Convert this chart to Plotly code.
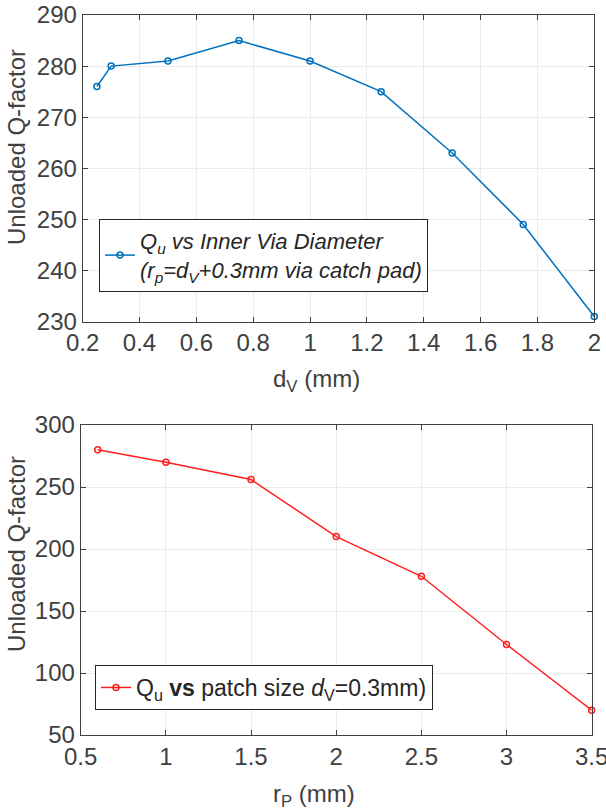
import plotly.graph_objects as go

# Top chart data: Q_u vs inner via diameter
dv_mm = [0.25, 0.3, 0.5, 0.75, 1.0, 1.25, 1.5, 1.75, 2.0]
qu_dv = [276, 280, 281, 285, 281, 275, 263, 249, 231]
top_xticks = [0.2, 0.4, 0.6, 0.8, 1.0, 1.2, 1.4, 1.6, 1.8, 2.0]
top_xtext = ["0.2", "0.4", "0.6", "0.8", "1", "1.2", "1.4", "1.6", "1.8", "2"]
top_yticks = [230, 240, 250, 260, 270, 280, 290]

# Bottom chart data: Q_u vs patch size
rp_mm = [0.6, 1.0, 1.5, 2.0, 2.5, 3.0, 3.5]
qu_rp = [280, 270, 256, 210, 178, 123, 70]
bot_xticks = [0.5, 1.0, 1.5, 2.0, 2.5, 3.0, 3.5]
bot_xtext = ["0.5", "1", "1.5", "2", "2.5", "3", "3.5"]
bot_yticks = [50, 100, 150, 200, 250, 300]

W, H = 606, 810
AX = "#404040"
GRID = "#ebebeb"
FONT = "Liberation Sans, Arial, Helvetica, sans-serif"

fig = go.Figure()

fig.add_trace(go.Scatter(
    x=dv_mm, y=qu_dv, mode="lines+markers", xaxis="x", yaxis="y",
    line=dict(color="#0072BD", width=1.5),
    marker=dict(symbol="circle-open", size=6, color="#0072BD", line=dict(width=1.5)),
    cliponaxis=False, legend="legend",
    name="<i>Q<sub>u</sub> vs Inner Via Diameter</i><br><i>(r<sub>p</sub>=d<sub>V</sub>+0.3mm via catch pad)</i>",
))
fig.add_trace(go.Scatter(
    x=rp_mm, y=qu_rp, mode="lines+markers", xaxis="x2", yaxis="y2",
    line=dict(color="#FF1F1F", width=1.5),
    marker=dict(symbol="circle-open", size=6, color="#FF1F1F", line=dict(width=1.5)),
    cliponaxis=False, legend="legend2",
    name="Q<sub>u</sub> <b>vs</b> patch size <i>d</i><sub>V</sub>=0.3mm)",
))

axis_common = dict(
    showline=True, linecolor=AX, linewidth=1, mirror="ticks",
    ticks="inside", ticklen=5, tickcolor=AX, tickwidth=1,
    showgrid=True, gridcolor=GRID, gridwidth=1, zeroline=False,
    tickfont=dict(family=FONT, size=24, color=AX), automargin=False,
    ticklabeloverflow="allow",
)

fig.update_layout(
    width=W, height=H,
    margin=dict(l=0, r=0, t=0, b=0),
    paper_bgcolor="white", plot_bgcolor="white",
    font=dict(family=FONT, color=AX),
    xaxis=dict(domain=[82.7 / W, 594.3 / W], anchor="y", range=[0.2, 2.0],
               tickmode="array", tickvals=top_xticks, ticktext=top_xtext, **axis_common),
    yaxis=dict(domain=[(H - 321.6) / H, (H - 15) / H], anchor="x", range=[230, 290],
               tickmode="array", tickvals=top_yticks, **axis_common),
    xaxis2=dict(domain=[80.7 / W, 591.7 / W], anchor="y2", range=[0.5, 3.5],
                tickmode="array", tickvals=bot_xticks, ticktext=bot_xtext, **axis_common),
    yaxis2=dict(domain=[(H - 735) / H, (H - 425) / H], anchor="x2", range=[50, 300],
                tickmode="array", tickvals=bot_yticks, **axis_common),
    legend=dict(x=99 / W, y=(H - 219) / H, xanchor="left", yanchor="top",
                bgcolor="white", bordercolor="#262626", borderwidth=1,
                font=dict(family=FONT, size=22, color="#262626"),
                itemwidth=30, valign="middle"),
    legend2=dict(x=95 / W, y=(H - 665) / H, xanchor="left", yanchor="top",
                 bgcolor="white", bordercolor="#262626", borderwidth=1,
                 font=dict(family=FONT, size=23, color="#262626"),
                 itemwidth=30, valign="middle"),
    showlegend=True,
)

title_font = dict(family=FONT, size=24, color=AX)
fig.add_annotation(text="Unloaded Q-factor", xref="paper", yref="paper",
                   x=16 / W, y=(H - 147) / H, textangle=-90, showarrow=False,
                   xanchor="center", yanchor="middle", font=title_font)
fig.add_annotation(text="Unloaded Q-factor", xref="paper", yref="paper",
                   x=16 / W, y=(H - 554) / H, textangle=-90, showarrow=False,
                   xanchor="center", yanchor="middle", font=title_font)
fig.add_annotation(text="d<sub>V</sub> (mm)", xref="paper", yref="paper",
                   x=316 / W, y=(H - 380) / H, showarrow=False,
                   xanchor="center", yanchor="middle", font=title_font)
fig.add_annotation(text="r<sub>P</sub> (mm)", xref="paper", yref="paper",
                   x=314 / W, y=(H - 795) / H, showarrow=False,
                   xanchor="center", yanchor="middle", font=title_font)

fig.write_html(
    "out.html",
    config={"displayModeBar": False},
    post_script="document.documentElement.style.margin='0';document.body.style.margin='0';document.body.style.padding='0';document.body.style.overflow='hidden';",
)
